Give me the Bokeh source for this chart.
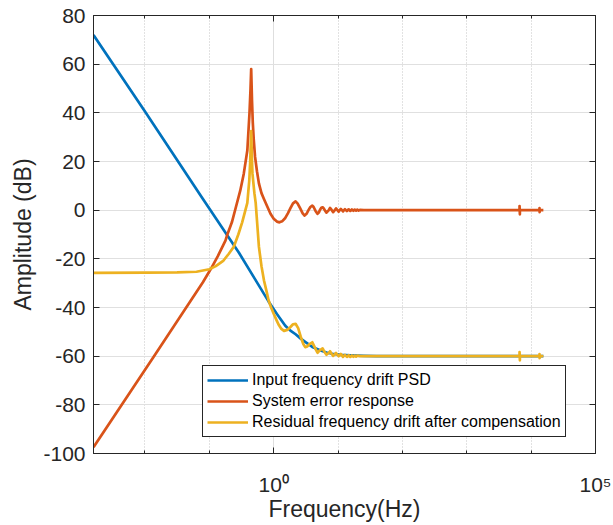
import numpy as np
from bokeh.plotting import figure
from bokeh.models import Range1d, FixedTicker, LinearAxis, LogAxis, Legend, LegendItem
from bokeh.embed import file_html
from bokeh.resources import INLINE

# ---- data (log10 of frequency in Hz, amplitude in dB) ----
input_logf = [-2.80, -2.0, -1.11, -0.54, -0.08, 0.05, 0.18, 0.26, 0.34, 0.42, 0.50, 0.60,
              0.73, 0.82, 0.91, 1.05, 1.19, 1.4, 1.6, 4.19]
input_db = [72.0, 40.5, 5.0, -17.5, -37.5, -42.7, -47.5, -49.5, -51.0, -52.8, -54.3, -56.2,
            -57.7, -58.5, -59.0, -59.5, -59.7, -59.9, -60.0, -60.0]

error_logf = [-2.80, -1.87, -1.29, -1.1, -0.98, -0.87, -0.75, -0.72, -0.65, -0.59, -0.52, -0.465,
              -0.41, -0.376, -0.36, -0.35, -0.337, -0.325, -0.31, -0.29, -0.26, -0.23, -0.19,
              -0.15, -0.10, -0.05, 0.0, 0.05, 0.09, 0.13, 0.18, 0.22, 0.26, 0.30, 0.34, 0.37,
              0.41, 0.45, 0.48, 0.51, 0.54, 0.57, 0.60, 0.62, 0.65, 0.68, 0.70, 0.72, 0.74, 0.76,
              0.78, 0.80, 0.82, 0.85, 0.875, 0.90, 0.924, 0.946, 0.968, 0.99, 1.009, 1.026, 1.043,
              1.06, 1.077, 1.092, 1.107, 1.122, 1.137, 1.15, 1.164, 1.177, 1.19, 1.202, 1.214,
              1.226, 1.238, 1.248, 1.258, 1.27, 1.28, 1.29, 1.30, 1.32, 1.34, 1.40,
              3.82, 3.82, 3.825, 3.825, 4.13, 4.13, 4.132, 4.132, 4.19]
error_db = [-97.4, -60.4, -37.2, -29.6, -24.3, -19.0, -12.5, -10.0, -5.0, 1.0, 8.0, 15.0,
            24.5, 40.0, 50.0, 58.0, 45.0, 36.0, 29.0, 22.0, 16.0, 11.0, 7.0,
            4.5, 1.5, -1.5, -3.5, -4.7, -5.0, -4.6, -3.2, -1.3, 0.8, 2.8, 3.6, 2.8,
            0.8, -1.3, -2.2, -1.5, 0.0, 1.3, 1.9, 1.3, -0.3, -1.5, -1.0, 0.2, 1.0, 1.2,
            0.6, -0.3, -1.0, -0.2, 0.9, 0.1, -0.8, -0.1, 0.7, 0.0, -0.6, 0.0, 0.5,
            0.0, -0.5, 0.0, 0.4, 0.0, -0.4, 0.0, 0.35, 0.0, -0.3, 0.0, 0.3,
            0.0, -0.25, 0.0, 0.25, 0.0, -0.2, 0.0, 0.2, -0.15, 0.1, 0.0,
            0.0, 1.7, -1.7, 0.0, 0.0, 0.8, -0.8, 0.0, 0.0]

resid_logf = [-2.80, -2.0, -1.5, -1.2, -1.0, -0.9, -0.78, -0.70, -0.62, -0.55, -0.49, -0.45,
              -0.41, -0.38, -0.365, -0.35, -0.337, -0.33, -0.30, -0.28, -0.255, -0.23, -0.19,
              -0.15, -0.11, -0.08, -0.04, 0.0, 0.04, 0.075, 0.12, 0.16, 0.21, 0.26, 0.30, 0.34,
              0.38, 0.42, 0.46, 0.49, 0.52, 0.55, 0.60, 0.64, 0.68, 0.72, 0.76, 0.79, 0.82,
              0.85, 0.875, 0.90, 0.924, 0.946, 0.968, 0.99, 1.009, 1.026, 1.043, 1.06, 1.077,
              1.092, 1.107, 1.122, 1.137, 1.15, 1.164, 1.177, 1.19, 1.202, 1.214, 1.226, 1.238,
              1.248, 1.258, 1.27, 1.28, 1.29, 1.30, 1.34,
              3.82, 3.82, 3.825, 3.825, 4.13, 4.13, 4.132, 4.132, 4.19]
resid_db = [-25.8, -25.7, -25.6, -25.3, -24.3, -23.0, -20.7, -18.0, -15.0, -10.0, -5.0, -1.0,
            3.0, 12.0, 20.0, 32.5, 20.0, 15.0, 7.0, 3.0, -6.0, -15.0, -23.0,
            -29.0, -33.5, -37.0, -40.0, -42.6, -45.0, -47.0, -48.8, -49.6, -49.2, -48.0, -46.9, -46.7,
            -48.5, -52.0, -55.0, -56.3, -56.0, -55.2, -54.3, -56.5, -58.6, -57.5, -56.8, -58.3, -59.4,
            -58.8, -58.0, -59.0, -59.9, -59.3, -58.7, -59.4, -60.0, -59.6, -59.1, -59.6, -60.3,
            -59.9, -59.5, -59.9, -60.3, -60.0, -59.6, -60.0, -60.3, -60.0, -59.7, -60.0, -60.25,
            -60.0, -59.75, -60.0, -60.2, -60.0, -59.8, -60.0,
            -60.0, -58.3, -61.7, -60.0, -60.0, -59.2, -60.8, -60.0, -60.0]

series_names = ["Input frequency drift PSD", "System error response",
                "Residual frequency drift after compensation"]
series_colors = ["#0072BD", "#D95319", "#EDB120"]

y_ticks = [-100, -80, -60, -40, -20, 0, 20, 40, 60, 80]
x_major_ticks = [1.0, 100000.0]
x_tick_labels = ["10\u2070", "10\u2075"]
x_minor_ticks = [0.01, 0.1, 10.0, 100.0, 1000.0, 10000.0]

FONT = "Liberation Sans"
AX = "#262626"

p = figure(frame_width=502, frame_height=438, x_axis_type="log",
           x_range=Range1d(10 ** -2.8, 1e5), y_range=Range1d(-100, 80),
           output_backend="svg", toolbar_location=None,
           min_border_left=93, min_border_top=15, min_border_right=18, min_border_bottom=72,
           background_fill_color="white", border_fill_color="white")
p.outline_line_color = AX
p.outline_line_width = 1

xt = FixedTicker(ticks=x_major_ticks, minor_ticks=x_minor_ticks)
yt = FixedTicker(ticks=y_ticks)

xa = p.xaxis[0]
xa.ticker = xt
xa.major_label_overrides = dict(zip(x_major_ticks, x_tick_labels))
ya = p.yaxis[0]
ya.ticker = yt
ya.major_label_overrides = {t: str(t) for t in y_ticks}

for ax in (xa, ya):
    ax.axis_line_color = AX
    ax.major_tick_line_color = AX
    ax.minor_tick_line_color = AX
    ax.major_tick_in = 6
    ax.major_tick_out = 0
    ax.minor_tick_in = 3
    ax.minor_tick_out = 0
    ax.major_label_text_font = FONT
    ax.major_label_text_font_size = "21px"
    ax.major_label_text_color = AX
    ax.axis_label_text_font = FONT
    ax.axis_label_text_font_size = "23px"
    ax.axis_label_text_font_style = "normal"
    ax.axis_label_text_color = AX

xa.axis_label = "Frequency(Hz)"
xa.major_label_standoff = 19
xa.axis_label_standoff = -3
ya.axis_label = "Amplitude (dB)"
ya.major_label_standoff = 8
ya.axis_label_standoff = 4

# box ticks on top and right
top = LogAxis(ticker=xt, major_label_overrides={t: "" for t in x_major_ticks},
              major_label_text_font_size="0px", major_label_standoff=0,
              major_tick_in=6, major_tick_out=0, minor_tick_in=3, minor_tick_out=0,
              axis_line_color=AX, major_tick_line_color=AX, minor_tick_line_color=AX)
right = LinearAxis(ticker=yt, major_label_overrides={t: "" for t in y_ticks},
                   major_label_text_font_size="0px", major_label_standoff=0,
                   major_tick_in=6, major_tick_out=0, minor_tick_in=0, minor_tick_out=0,
                   axis_line_color=AX, major_tick_line_color=AX)
p.add_layout(top, "above")
p.add_layout(right, "right")

p.xgrid.ticker = xt
p.ygrid.ticker = yt
p.xgrid.grid_line_color = "#dedede"
p.xgrid.minor_grid_line_color = "#c4c4c4"
p.xgrid.minor_grid_line_dash = "1 2"
p.ygrid.grid_line_color = "#e0e0e0"

renderers = []
for lf, db, c in zip([input_logf, error_logf, resid_logf],
                     [input_db, error_db, resid_db], series_colors):
    r = p.line(10 ** np.array(lf), np.array(db), line_color=c, line_width=2.7,
               line_join="round")
    renderers.append(r)

legend = Legend(items=[LegendItem(label=n, renderers=[r]) for n, r in zip(series_names, renderers)],
                location=(109, 16), orientation="vertical",
                border_line_color=AX, border_line_width=1, border_line_alpha=1,
                background_fill_color="white", background_fill_alpha=1,
                label_text_font=FONT, label_text_font_size="16px", label_text_color="#000000",
                glyph_width=41, glyph_height=20, label_height=20, label_standoff=4,
                padding=4, spacing=1, margin=0)
p.add_layout(legend)

open("out.html", "w").write(file_html(p, INLINE))
